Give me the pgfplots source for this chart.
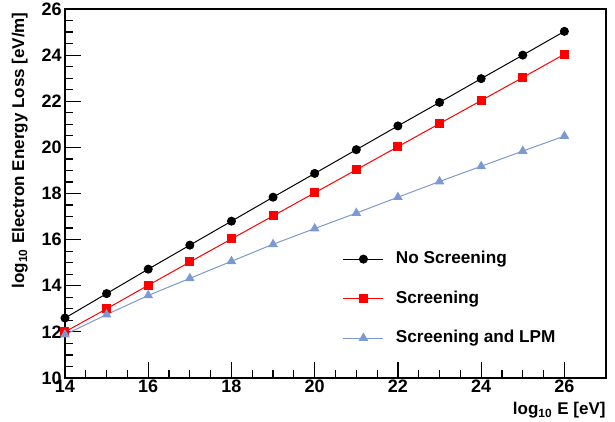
\documentclass[border=0pt]{standalone}
\usepackage{fontspec}
\setmainfont{Liberation Sans}
\usepackage{pgfplots}
\pgfplotsset{compat=1.18}
\definecolor{lpmblue}{RGB}{125,153,209}
\begin{document}
\begin{tikzpicture}
\begin{axis}[
  scale only axis,
  width=270.5pt, height=184.5pt,
  xmin=14, xmax=27, ymin=10, ymax=26,
  xtick={14,16,...,26}, ytick={10,12,...,26},
  minor tick num=3,
  tick pos=left, tick align=inside,
  major tick length=8pt, minor tick length=4pt,
  axis line style={line width=0.6pt},
  every tick/.style={line width=0.6pt},
  /pgf/number format/assume math mode=true,
  ticklabel style={font=\fontsize{9}{10}\selectfont\bfseries},
  xticklabel style={inner sep=1pt},
  yticklabel style={inner sep=1.5pt},
  xlabel={log$_{\mathbf{10}}$ E [eV]},
  ylabel={log$_{\mathbf{10}}$ Electron Energy Loss [eV/m]},
  label style={font=\fontsize{8.5}{10}\selectfont\bfseries, inner sep=0pt},
  xlabel style={at={(axis description cs:1,-0.064)}, anchor=north east},
  ylabel style={at={(axis description cs:-0.068,0.992)}, anchor=south east},
  legend style={draw=none, fill=none, at={(axis description cs:0.513,0.355)}, anchor=north west,
    font=\fontsize{8.6}{10}\selectfont\bfseries, row sep=8pt, inner sep=0pt,
    /tikz/every odd column/.style={column sep=4pt}},
  legend cell align=left,
  legend image code/.code={\draw[mark repeat=2,mark phase=2,#1] plot coordinates {(0pt,0pt) (10pt,0pt) (20pt,0pt)};},
]
\addplot[black, line width=0.5pt, mark=*, mark size=2pt] coordinates {
(14,12.6) (15,13.66) (16,14.72) (17,15.76) (18,16.8) (19,17.84) (20,18.87) (21,19.9) (22,20.93) (23,21.95) (24,22.98) (25,24.0) (26,25.03)};
\addlegendentry{No Screening}
\addplot[red, line width=0.5pt, mark=square*, mark size=2pt] coordinates {
(14,12.0) (15,13.0) (16,14.02) (17,15.03) (18,16.03) (19,17.03) (20,18.03) (21,19.03) (22,20.03) (23,21.03) (24,22.03) (25,23.03) (26,24.04)};
\addlegendentry{Screening}
\addplot[lpmblue, line width=0.5pt, mark=triangle*, mark size=2.3pt] coordinates {
(14,11.88) (15,12.75) (16,13.58) (17,14.32) (18,15.06) (19,15.8) (20,16.48) (21,17.15) (22,17.84) (23,18.52) (24,19.18) (25,19.84) (26,20.49)};
\addlegendentry{Screening and LPM}
\end{axis}
\pgfresetboundingbox
\path[use as bounding box] ([xshift=-32.5pt,yshift=-22pt]current axis.south west) rectangle ([xshift=4.5pt,yshift=4.5pt]current axis.north east);
\end{tikzpicture}
\end{document}
